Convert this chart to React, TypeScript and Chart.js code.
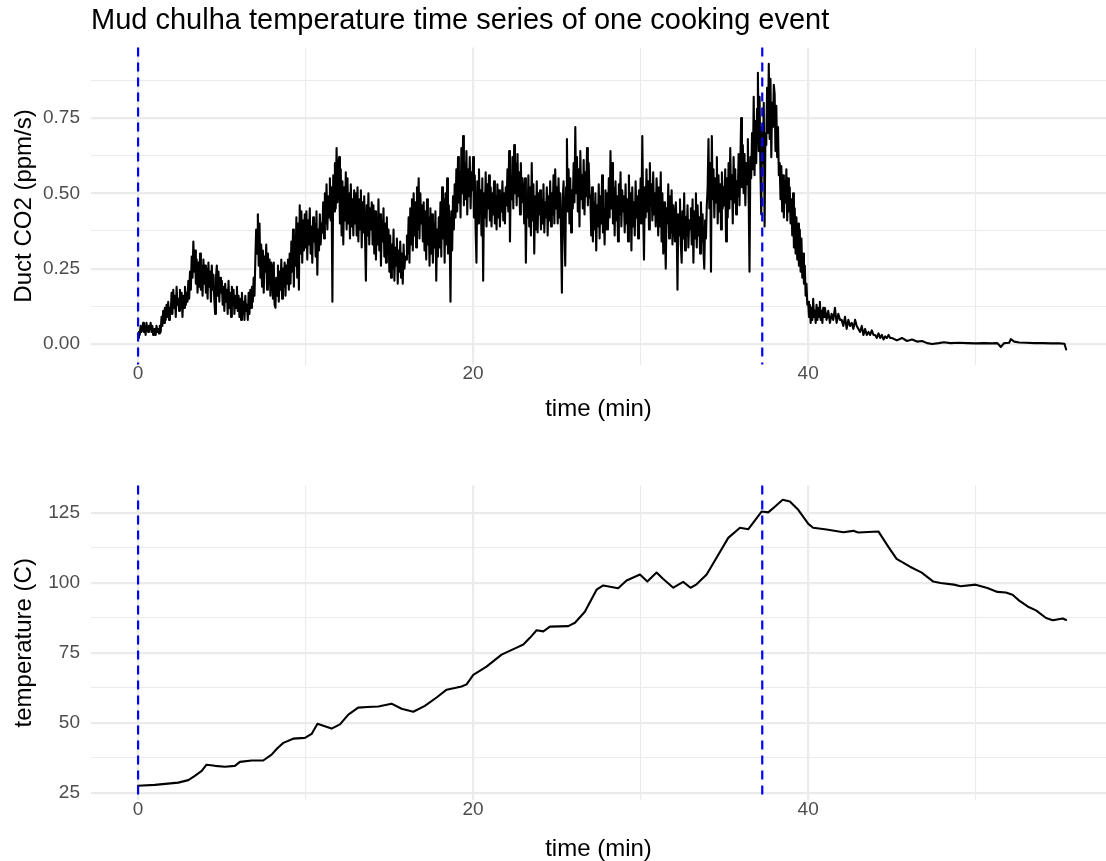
import React, { useEffect, useRef } from "react";
import { Chart, registerables } from "chart.js";

Chart.register(...registerables);

const TITLE = "Mud chulha temperature time series of one cooking event";
const X_TITLE = "time (min)";
const CO2_TITLE = "Duct CO2 (ppm/s)";
const TEMP_TITLE = "temperature (C)";

const X_MIN = -2.81;
const X_MAX = 57.78;
const X_GRID = [0, 10, 20, 30, 40, 50];
const X_LABELS = [0, 20, 40];

const CO2_MIN = -0.068;
const CO2_MAX = 0.984;
const CO2_GRID = [0, 0.125, 0.25, 0.375, 0.5, 0.625, 0.75, 0.875];
const CO2_LABELS = [0, 0.25, 0.5, 0.75];

const TEMP_MIN = 22.4;
const TEMP_MAX = 134.7;
const TEMP_GRID = [25, 37.5, 50, 62.5, 75, 87.5, 100, 112.5, 125];
const TEMP_LABELS = [25, 50, 75, 100, 125];

// start of the cooking event and moment of peak CO2 (min)
const EVENT_TIMES = [0, 37.26];

// Duct CO2, one reading every 0.05 min from t = 0 to 40.95 min (one row per minute)
const CO2_FAST_START = 0;
const CO2_FAST_STEP = 0.05;
const CO2_FAST = [
  0.02, 0.04, 0.03, 0.06, 0.04, 0.05, 0.07, 0.04, 0.06, 0.03, 0.07, 0.05, 0.04, 0.06, 0.05, 0.07, 0.04, 0.06, 0.03, 0.05,
  0.05, 0.03, 0.06, 0.04, 0.05, 0.035, 0.06, 0.04, 0.09, 0.06, 0.11, 0.07, 0.12, 0.08, 0.13, 0.09, 0.14, 0.08, 0.12, 0.10,
  0.17, 0.10, 0.18, 0.12, 0.16, 0.09, 0.19, 0.13, 0.15, 0.11, 0.18, 0.12, 0.17, 0.09, 0.16, 0.12, 0.19, 0.13, 0.17, 0.14,
  0.21, 0.15, 0.24, 0.18, 0.29, 0.22, 0.34, 0.24, 0.31, 0.20, 0.28, 0.17, 0.27, 0.19, 0.30, 0.18, 0.26, 0.16, 0.28, 0.20,
  0.26, 0.17, 0.25, 0.15, 0.27, 0.19, 0.24, 0.14, 0.26, 0.18, 0.23, 0.15, 0.10, 0.22, 0.26, 0.16, 0.24, 0.14, 0.22, 0.17,
  0.21, 0.13, 0.19, 0.11, 0.20, 0.14, 0.18, 0.10, 0.21, 0.12, 0.17, 0.09, 0.19, 0.13, 0.18, 0.10, 0.16, 0.12, 0.19, 0.11,
  0.16, 0.09, 0.15, 0.08, 0.17, 0.10, 0.14, 0.08, 0.16, 0.11, 0.13, 0.08, 0.17, 0.10, 0.18, 0.12, 0.19, 0.14, 0.22, 0.16,
  0.28, 0.38, 0.30, 0.43, 0.26, 0.40, 0.22, 0.33, 0.19, 0.31, 0.17, 0.29, 0.24, 0.33, 0.18, 0.30, 0.20, 0.28, 0.16, 0.27,
  0.25, 0.15, 0.27, 0.13, 0.12, 0.22, 0.16, 0.26, 0.14, 0.24, 0.18, 0.28, 0.15, 0.25, 0.19, 0.27, 0.16, 0.26, 0.20, 0.28,
  0.18, 0.30, 0.20, 0.34, 0.24, 0.38, 0.19, 0.36, 0.26, 0.42, 0.22, 0.40, 0.18, 0.46, 0.30, 0.44, 0.27, 0.41, 0.31, 0.43,
  0.32, 0.44, 0.28, 0.41, 0.33, 0.45, 0.30, 0.39, 0.27, 0.42, 0.34, 0.40, 0.29, 0.44, 0.23, 0.38, 0.31, 0.43, 0.33, 0.40,
  0.37, 0.47, 0.35, 0.50, 0.40, 0.53, 0.38, 0.49, 0.42, 0.55, 0.41, 0.52, 0.14, 0.56, 0.44, 0.60, 0.45, 0.65, 0.47, 0.58,
  0.62, 0.40, 0.58, 0.36, 0.54, 0.33, 0.52, 0.41, 0.57, 0.38, 0.55, 0.40, 0.50, 0.35, 0.53, 0.39, 0.48, 0.36, 0.51, 0.40,
  0.50, 0.36, 0.52, 0.34, 0.48, 0.38, 0.51, 0.32, 0.47, 0.37, 0.49, 0.35, 0.21, 0.46, 0.36, 0.50, 0.33, 0.45, 0.38, 0.47,
  0.33, 0.46, 0.30, 0.44, 0.28, 0.42, 0.33, 0.48, 0.31, 0.43, 0.26, 0.41, 0.34, 0.45, 0.29, 0.40, 0.27, 0.42, 0.30, 0.38,
  0.24, 0.36, 0.22, 0.33, 0.25, 0.38, 0.21, 0.32, 0.26, 0.35, 0.20, 0.31, 0.24, 0.34, 0.22, 0.30, 0.20, 0.33, 0.25, 0.29,
  0.28, 0.36, 0.30, 0.42, 0.27, 0.45, 0.33, 0.48, 0.31, 0.50, 0.36, 0.47, 0.32, 0.52, 0.38, 0.55, 0.35, 0.50, 0.40, 0.46,
  0.34, 0.47, 0.31, 0.44, 0.28, 0.48, 0.33, 0.42, 0.26, 0.45, 0.30, 0.43, 0.27, 0.40, 0.32, 0.44, 0.21, 0.38, 0.29, 0.42,
  0.32, 0.47, 0.29, 0.52, 0.35, 0.48, 0.27, 0.50, 0.33, 0.55, 0.30, 0.46, 0.36, 0.14, 0.44, 0.31, 0.49, 0.38, 0.53, 0.42,
  0.58, 0.44, 0.62, 0.47, 0.57, 0.42, 0.65, 0.50, 0.69, 0.46, 0.60, 0.48, 0.64, 0.43, 0.58, 0.49, 0.62, 0.45, 0.57, 0.51,
  0.62, 0.42, 0.56, 0.38, 0.27, 0.54, 0.40, 0.58, 0.44, 0.51, 0.36, 0.55, 0.21, 0.50, 0.42, 0.57, 0.39, 0.53, 0.45, 0.56,
  0.41, 0.52, 0.39, 0.50, 0.43, 0.54, 0.40, 0.49, 0.38, 0.53, 0.42, 0.51, 0.39, 0.48, 0.44, 0.54, 0.41, 0.50, 0.40, 0.52,
  0.46, 0.58, 0.44, 0.64, 0.34, 0.55, 0.48, 0.62, 0.45, 0.66, 0.50, 0.60, 0.46, 0.63, 0.49, 0.57, 0.43, 0.60, 0.47, 0.55,
  0.50, 0.40, 0.55, 0.27, 0.48, 0.42, 0.56, 0.39, 0.52, 0.36, 0.60, 0.41, 0.53, 0.30, 0.49, 0.38, 0.54, 0.37, 0.50, 0.43,
  0.51, 0.38, 0.48, 0.40, 0.53, 0.37, 0.47, 0.42, 0.52, 0.36, 0.49, 0.41, 0.54, 0.39, 0.50, 0.43, 0.56, 0.40, 0.58, 0.45,
  0.52, 0.40, 0.55, 0.42, 0.50, 0.36, 0.17, 0.48, 0.54, 0.38, 0.26, 0.52, 0.68, 0.44, 0.58, 0.40, 0.55, 0.37, 0.51, 0.45,
  0.60, 0.47, 0.72, 0.50, 0.62, 0.44, 0.58, 0.39, 0.64, 0.48, 0.56, 0.45, 0.61, 0.43, 0.57, 0.49, 0.65, 0.46, 0.60, 0.50,
  0.48, 0.36, 0.52, 0.34, 0.47, 0.38, 0.50, 0.31, 0.46, 0.39, 0.53, 0.35, 0.49, 0.40, 0.56, 0.37, 0.45, 0.33, 0.51, 0.38,
  0.50, 0.38, 0.55, 0.42, 0.64, 0.45, 0.60, 0.40, 0.52, 0.36, 0.54, 0.41, 0.49, 0.34, 0.53, 0.43, 0.57, 0.39, 0.51, 0.44,
  0.49, 0.37, 0.53, 0.40, 0.48, 0.34, 0.56, 0.41, 0.50, 0.31, 0.52, 0.39, 0.47, 0.36, 0.54, 0.42, 0.49, 0.35, 0.51, 0.40,
  0.55, 0.40, 0.69, 0.45, 0.28, 0.52, 0.42, 0.58, 0.44, 0.54, 0.38, 0.60, 0.46, 0.53, 0.41, 0.57, 0.43, 0.50, 0.39, 0.55,
  0.48, 0.36, 0.52, 0.39, 0.57, 0.34, 0.50, 0.30, 0.47, 0.38, 0.25, 0.45, 0.40, 0.53, 0.35, 0.49, 0.37, 0.51, 0.33, 0.46,
  0.42, 0.34, 0.47, 0.40, 0.18, 0.43, 0.36, 0.48, 0.33, 0.27, 0.44, 0.35, 0.50, 0.31, 0.42, 0.36, 0.46, 0.32, 0.41, 0.38,
  0.45, 0.33, 0.48, 0.27, 0.44, 0.35, 0.50, 0.32, 0.46, 0.36, 0.42, 0.30, 0.47, 0.34, 0.43, 0.31, 0.25, 0.41, 0.35, 0.46,
  0.52, 0.68, 0.45, 0.60, 0.24, 0.69, 0.48, 0.58, 0.42, 0.55, 0.47, 0.62, 0.40, 0.56, 0.44, 0.53, 0.38, 0.57, 0.45, 0.52,
  0.46, 0.58, 0.34, 0.55, 0.42, 0.60, 0.45, 0.65, 0.48, 0.56, 0.40, 0.62, 0.47, 0.58, 0.43, 0.54, 0.49, 0.63, 0.46, 0.59,
  0.75, 0.52, 0.66, 0.50, 0.63, 0.46, 0.60, 0.53, 0.68, 0.48, 0.24, 0.62, 0.55, 0.70, 0.58, 0.82, 0.56, 0.74, 0.60, 0.78,
  0.90, 0.64, 0.82, 0.58, 0.43, 0.72, 0.60, 0.80, 0.39, 0.70, 0.66, 0.85, 0.70, 0.93, 0.68, 0.88, 0.62, 0.80, 0.72, 0.86,
  0.83, 0.64, 0.79, 0.62, 0.72, 0.56, 0.60, 0.48, 0.59, 0.44, 0.56, 0.42, 0.54, 0.47, 0.58, 0.41, 0.55, 0.44, 0.52, 0.40,
  0.48, 0.36, 0.50, 0.32, 0.45, 0.30, 0.42, 0.28, 0.40, 0.26, 0.38, 0.24, 0.35, 0.22, 0.30, 0.20, 0.26, 0.16, 0.20, 0.13,
  0.14, 0.09, 0.13, 0.07, 0.12, 0.08, 0.15, 0.09, 0.11, 0.07, 0.13, 0.08, 0.12, 0.09, 0.14, 0.08, 0.11, 0.07, 0.12, 0.09,
];

// Duct CO2, one reading every 0.1 min from t = 41.0 to 44.9 min
const CO2_SLOW_START = 41;
const CO2_SLOW_STEP = 0.1;
const CO2_SLOW = [
  0.12, 0.08, 0.11, 0.07, 0.10, 0.08, 0.12, 0.07, 0.10, 0.08,
  0.08, 0.06, 0.09, 0.05, 0.08, 0.06, 0.07, 0.05, 0.08, 0.06,
  0.05, 0.04, 0.06, 0.03, 0.05, 0.03, 0.04, 0.03, 0.045, 0.03,
  0.03, 0.02, 0.035, 0.02, 0.03, 0.015, 0.025, 0.02, 0.03, 0.02,
];

// Duct CO2 after 45 min (sparser readings)
const CO2_TAIL_T = [
  45.0, 45.3, 45.6, 45.9, 46.2, 46.5, 46.8, 47.1, 47.4, 47.8, 48.1, 48.5,
  49.0, 49.5, 50.0, 50.5, 51.0, 51.3, 51.5, 51.7, 52.0, 52.1, 52.3, 52.6,
  53.0, 53.5, 54.0, 54.5, 55.0, 55.3, 55.4,
];
const CO2_TAIL_V = [
  0.02, 0.012, 0.02, 0.01, 0.015, 0.008, 0.01, 0.003, 0.0, 0.003, 0.006, 0.003,
  0.004, 0.003, 0.002, 0.003, 0.002, 0.003, -0.01, 0.003, 0.004, 0.016, 0.008, 0.005,
  0.004, 0.003, 0.003, 0.002, 0.002, 0.001, -0.018,
];

// Chulha temperature (C)
const TEMP_T = [
  0, 1.0, 2.4, 3.0, 3.39, 3.8, 4.09, 4.6, 5.18, 5.78,
  6.08, 6.78, 7.47, 7.97, 8.3, 8.67, 9.26, 9.96, 10.36, 10.71,
  11.1, 11.55, 12.05, 12.55, 13.14, 13.7, 14.34, 15.13, 15.73, 16.43,
  17.12, 17.82, 18.42, 19.31, 19.61, 20.01, 20.8, 21.7, 22.6, 23.0,
  23.39, 23.79, 24.19, 24.59, 25.68, 26.08, 26.67, 27.37, 27.77, 28.66,
  29.16, 29.96, 30.4, 30.95, 31.35, 31.95, 32.54, 32.98, 33.34, 33.94,
  34.54, 35.23, 35.93, 36.43, 37.22, 37.62, 38.01, 38.48, 38.91, 39.41,
  40.01, 40.3, 41.1, 42.1, 42.69, 42.99, 44.19, 44.78, 45.28, 46.08,
  46.78, 47.47, 47.9, 48.7, 49.1, 50.0, 50.7, 51.3, 51.8, 52.2,
  52.6, 53.1, 53.6, 54.2, 54.6, 55.2, 55.4,
];
const TEMP_V = [
  27.5, 27.8, 28.6, 29.5, 31, 32.8, 35, 34.6, 34.3, 34.6,
  36, 36.5, 36.5, 38.6, 40.8, 42.8, 44.3, 44.6, 46, 49.6,
  48.8, 47.9, 49.4, 52.9, 55.4, 55.6, 55.8, 56.8, 55, 53.9,
  56, 59, 61.8, 62.9, 63.7, 67.1, 70, 74.3, 76.8, 77.9,
  80.3, 83, 82.6, 84.3, 84.5, 85.7, 89.6, 97.5, 99, 98,
  100.8, 102.9, 100.4, 103.6, 101.3, 98.2, 100.3, 98.2, 99.4, 102.9,
  109, 116, 119.6, 119.1, 125.4, 125.1, 127.1, 129.6, 129, 126,
  121, 119.6, 119, 118, 118.5, 117.9, 118.3, 112.9, 108.5, 105.7,
  103.6, 100.4, 99.9, 99.3, 98.7, 99.3, 98.1, 96.7, 96.5, 95.7,
  93.6, 91.5, 90.1, 87.4, 86.6, 87.2, 86.7,
];

const FONT = "'Liberation Sans', Arial, Helvetica, sans-serif";
const GRID_COLOR = "#EBEBEB";
const TICK_COLOR = "#4D4D4D";

const near = (list: number[], v: number) => list.some((l) => Math.abs(l - v) < 1e-6);

const eventLines = {
  id: "eventLines",
  afterDatasetsDraw(chart: any) {
    const { ctx, chartArea, scales } = chart;
    ctx.save();
    ctx.strokeStyle = "#0000FF";
    ctx.lineWidth = 2.2;
    ctx.setLineDash([9, 6]);
    for (const t of EVENT_TIMES) {
      const x = scales.x.getPixelForValue(t);
      ctx.beginPath();
      ctx.moveTo(x, chartArea.top);
      ctx.lineTo(x, chartArea.bottom);
      ctx.stroke();
    }
    ctx.restore();
  },
};

function buildConfig(opts: {
  points: { x: number; y: number }[];
  yMin: number;
  yMax: number;
  yGrid: number[];
  yLabels: number[];
  yFmt: (v: number) => string;
  yTitle: string;
  xAxisHeight: number;
  xTitlePadBottom: number;
  topPad: number;
  lineWidth: number;
  title?: string;
}): any {
  return {
    type: "line",
    data: {
      datasets: [
        {
          data: opts.points,
          borderColor: "#000000",
          borderWidth: opts.lineWidth,
          borderJoinStyle: "round",
          borderCapStyle: "round",
          pointRadius: 0,
          tension: 0,
          fill: false,
        },
      ],
    },
    options: {
      animation: false,
      responsive: false,
      devicePixelRatio: 1,
      events: [],
      layout: { padding: { top: opts.topPad, left: 0, right: 0, bottom: 0 } },
      plugins: {
        legend: { display: false },
        tooltip: { enabled: false },
        title: opts.title
          ? {
              display: true,
              text: opts.title,
              align: "start",
              fullSize: false,
              color: "#000000",
              font: { family: FONT, size: 29, weight: "normal", lineHeight: 1 },
              padding: { top: 6.3, bottom: 12.1 },
            }
          : { display: false },
      },
      scales: {
        x: {
          type: "linear",
          min: X_MIN,
          max: X_MAX,
          afterBuildTicks: (scale: any) => {
            scale.ticks = X_GRID.map((v) => ({ value: v }));
          },
          afterFit: (scale: any) => {
            scale.height = opts.xAxisHeight;
          },
          border: { display: false },
          grid: {
            color: GRID_COLOR,
            drawTicks: false,
            lineWidth: (ctx: any) => (ctx.tick && near(X_LABELS, ctx.tick.value) ? 2.2 : 1.1),
          },
          ticks: {
            autoSkip: false,
            maxRotation: 0,
            padding: 0,
            color: TICK_COLOR,
            font: { family: FONT, size: 19, lineHeight: 1 },
            callback: (v: number) => (near(X_LABELS, v) ? String(Math.round(v)) : ""),
          },
          title: {
            display: true,
            text: X_TITLE,
            color: "#000000",
            font: { family: FONT, size: 24, lineHeight: 1 },
            padding: { top: 0, bottom: opts.xTitlePadBottom },
          },
        },
        y: {
          type: "linear",
          min: opts.yMin,
          max: opts.yMax,
          afterBuildTicks: (scale: any) => {
            scale.ticks = opts.yGrid.map((v) => ({ value: v }));
          },
          afterFit: (scale: any) => {
            scale.width = 91;
          },
          border: { display: false },
          grid: {
            color: GRID_COLOR,
            drawTicks: false,
            lineWidth: (ctx: any) => (ctx.tick && near(opts.yLabels, ctx.tick.value) ? 2.2 : 1.1),
          },
          ticks: {
            autoSkip: false,
            padding: 11,
            color: TICK_COLOR,
            font: { family: FONT, size: 19, lineHeight: 1 },
            callback: (v: number) => (near(opts.yLabels, v) ? opts.yFmt(v) : ""),
          },
          title: {
            display: true,
            text: opts.yTitle,
            color: "#000000",
            font: { family: FONT, size: 24, lineHeight: 1 },
            padding: { top: 12, bottom: 0 },
          },
        },
      },
    },
    plugins: [eventLines],
  };
}

export default function App() {
  const topRef = useRef<HTMLCanvasElement>(null);
  const bottomRef = useRef<HTMLCanvasElement>(null);

  useEffect(() => {
    document.body.style.margin = "0";
    const at = (start: number, step: number, i: number) => Math.round((start + i * step) * 1000) / 1000;
    const co2Points = CO2_FAST.map((v, i) => ({ x: at(CO2_FAST_START, CO2_FAST_STEP, i), y: v }))
      .concat(CO2_SLOW.map((v, i) => ({ x: at(CO2_SLOW_START, CO2_SLOW_STEP, i), y: v })))
      .concat(CO2_TAIL_T.map((t, i) => ({ x: t, y: CO2_TAIL_V[i] })));
    const tempPoints = TEMP_T.map((t, i) => ({ x: t, y: TEMP_V[i] }));

    const top = new Chart(
      topRef.current as HTMLCanvasElement,
      buildConfig({
        points: co2Points,
        yMin: CO2_MIN,
        yMax: CO2_MAX,
        yGrid: CO2_GRID,
        yLabels: CO2_LABELS,
        yFmt: (v) => v.toFixed(2),
        yTitle: CO2_TITLE,
        xAxisHeight: 65.5,
        xTitlePadBottom: 8.5,
        topPad: 0,
        lineWidth: 2.1,
        title: TITLE,
      })
    );
    const bottom = new Chart(
      bottomRef.current as HTMLCanvasElement,
      buildConfig({
        points: tempPoints,
        yMin: TEMP_MIN,
        yMax: TEMP_MAX,
        yGrid: TEMP_GRID,
        yLabels: TEMP_LABELS,
        yFmt: (v) => String(Math.round(v)),
        yTitle: TEMP_TITLE,
        xAxisHeight: 61,
        xTitlePadBottom: 0,
        topPad: 55.5,
        lineWidth: 2.1,
      })
    );
    return () => {
      top.destroy();
      bottom.destroy();
    };
  }, []);

  return (
    <div style={{ width: 1106, height: 861, background: "#ffffff", overflow: "hidden" }}>
      <canvas ref={topRef} width={1106} height={430} style={{ display: "block" }} />
      <canvas ref={bottomRef} width={1106} height={431} style={{ display: "block" }} />
    </div>
  );
}
